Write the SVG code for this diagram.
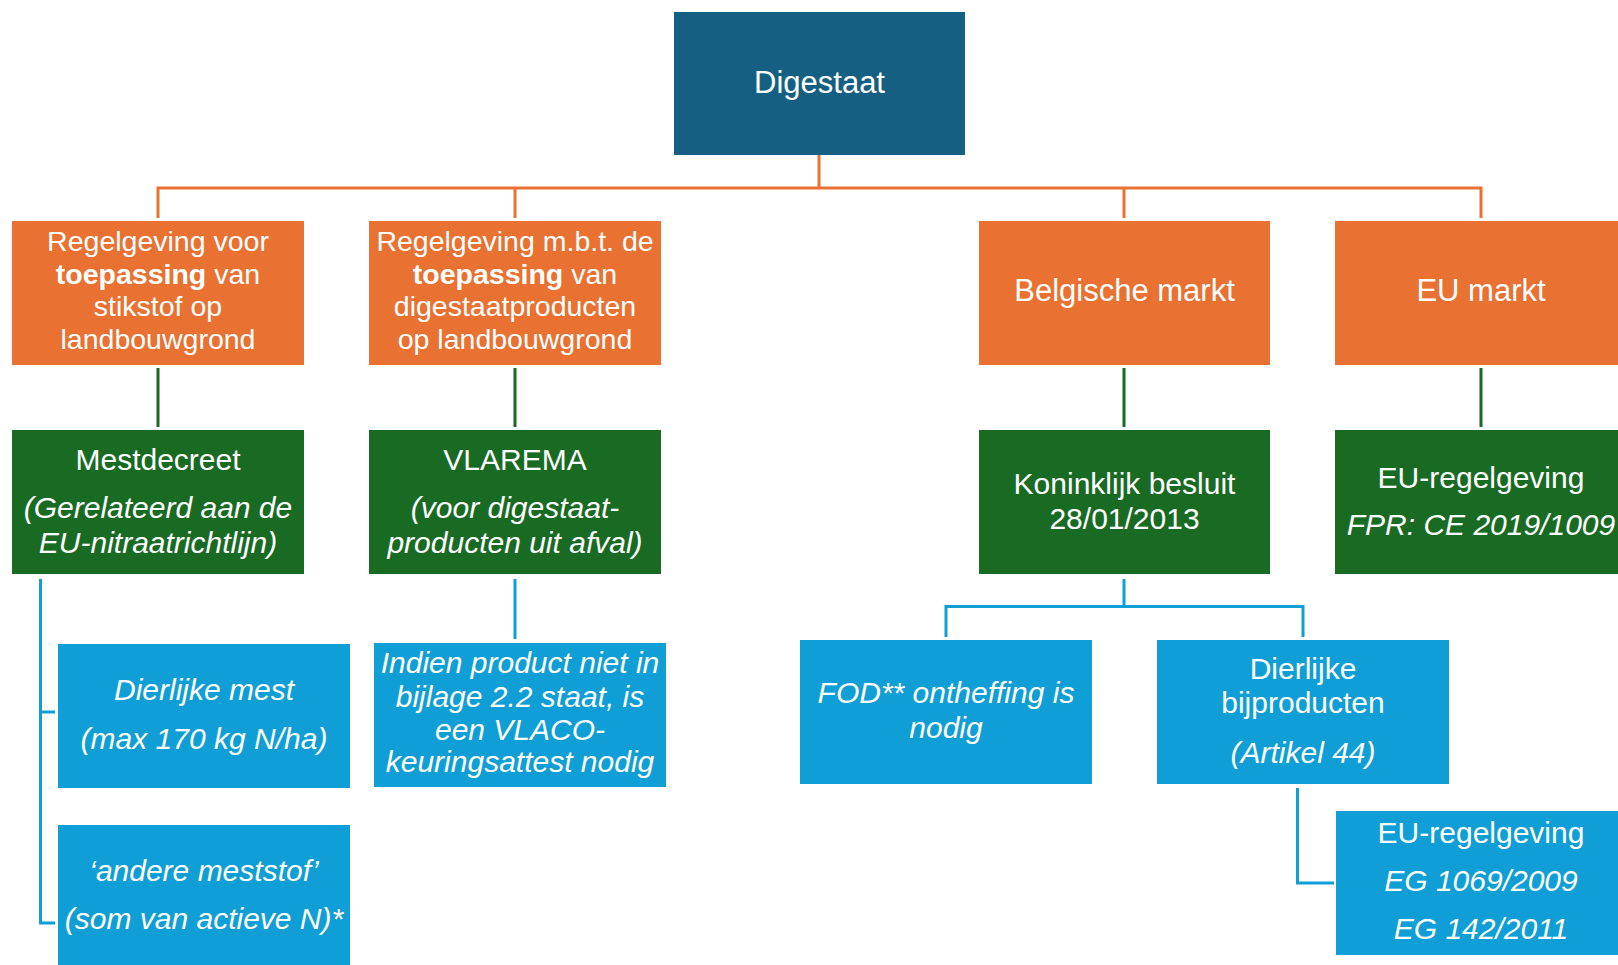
<svg xmlns="http://www.w3.org/2000/svg" width="1618" height="965" viewBox="0 0 1618 965">
<style>
text{font-family:"Liberation Sans",Arial,sans-serif;fill:#ffffff;text-anchor:middle;font-size:30px}
.t28{font-size:28.5px}
.t31{font-size:31px}
.it{font-style:italic}
.b{font-weight:bold}
.dark{fill:#156082}
.orange{fill:#E97132}
.green{fill:#196B24}
.blue{fill:#0F9ED5}
.co{stroke:#E97132;stroke-width:3;fill:none}
.cg{stroke:#196B24;stroke-width:3;fill:none}
.cb{stroke:#0F9ED5;stroke-width:3;fill:none}
</style>
<rect width="1618" height="965" fill="#ffffff"/>
<g id="connectors">
<path class="co" d="M819 155V188M158 218V188H1481V218M515 188V218M1124 188V218"/>
<path class="cg" d="M158 368V427M515 368V427M1124 368V427M1481 368V427"/>
<path class="cb" d="M40.5 579V923H55M40.5 712H55"/>
<path class="cb" d="M515 579V639"/>
<path class="cb" d="M1124 579V606.5M946 637V606.5H1303V637"/>
<path class="cb" d="M1297.5 788V883H1334"/>
</g>
<g id="digestaat"><rect class="dark" x="674" y="12" width="291" height="143"/><text class="t31" x="819.5" y="93">Digestaat</text></g>
<g id="regel-stikstof"><rect class="orange" x="12" y="221" width="292" height="144"/>
<text class="t28" x="158" y="251">Regelgeving voor</text>
<text class="t28" x="158" y="283.5"><tspan class="b">toepassing</tspan> van</text>
<text class="t28" x="158" y="316">stikstof op</text>
<text class="t28" x="158" y="348.5">landbouwgrond</text></g>
<g id="regel-digestaat"><rect class="orange" x="369" y="221" width="292" height="144"/>
<text class="t28" x="515" y="251">Regelgeving m.b.t. de</text>
<text class="t28" x="515" y="283.5"><tspan class="b">toepassing</tspan> van</text>
<text class="t28" x="515" y="316">digestaatproducten</text>
<text class="t28" x="515" y="348.5">op landbouwgrond</text></g>
<g id="belgische-markt"><rect class="orange" x="979" y="221" width="291" height="144"/><text class="t31" x="1124.5" y="301">Belgische markt</text></g>
<g id="eu-markt"><rect class="orange" x="1335" y="221" width="292" height="144"/><text class="t31" x="1481" y="301">EU markt</text></g>
<g id="mestdecreet"><rect class="green" x="12" y="430" width="292" height="144"/>
<text x="158" y="469.5">Mestdecreet</text>
<text class="it" x="158" y="518">(Gerelateerd aan de</text>
<text class="it" x="158" y="553">EU-nitraatrichtlijn)</text></g>
<g id="vlarema"><rect class="green" x="369" y="430" width="292" height="144"/>
<text x="515" y="469.5">VLAREMA</text>
<text class="it" x="515" y="518">(voor digestaat-</text>
<text class="it" x="515" y="553">producten uit afval)</text></g>
<g id="koninklijk-besluit"><rect class="green" x="979" y="430" width="291" height="144"/>
<text x="1124.5" y="494">Koninklijk besluit</text>
<text x="1124.5" y="528.5">28/01/2013</text></g>
<g id="eu-regelgeving-fpr"><rect class="green" x="1335" y="430" width="292" height="144"/>
<text x="1481" y="488">EU-regelgeving</text>
<text class="it" x="1481" y="535">FPR: CE 2019/1009</text></g>
<g id="dierlijke-mest"><rect class="blue" x="58" y="644" width="292" height="144"/>
<text class="it" x="204" y="700">Dierlijke mest</text>
<text class="it" x="204" y="748.5">(max 170 kg N/ha)</text></g>
<g id="andere-meststof"><rect class="blue" x="58" y="825" width="292" height="144"/>
<text class="it" x="204" y="881">‘andere meststof’</text>
<text class="it" x="204" y="929">(som van actieve N)*</text></g>
<g id="vlaco"><rect class="blue" x="374" y="643" width="292" height="144"/>
<text class="it" x="520" y="673">Indien product niet in</text>
<text class="it" x="520" y="706.5">bijlage 2.2 staat, is</text>
<text class="it" x="520" y="739.5">een VLACO-</text>
<text class="it" x="520" y="772">keuringsattest nodig</text></g>
<g id="fod"><rect class="blue" x="800" y="640" width="292" height="144"/>
<text class="it" x="946" y="703">FOD** ontheffing is</text>
<text class="it" x="946" y="737.5">nodig</text></g>
<g id="dierlijke-bijproducten"><rect class="blue" x="1157" y="640" width="292" height="144"/>
<text x="1303" y="678.5">Dierlijke</text>
<text x="1303" y="713">bijproducten</text>
<text class="it" x="1303" y="762.5">(Artikel 44)</text></g>
<g id="eu-regelgeving-eg"><rect class="blue" x="1336" y="811" width="292" height="144"/>
<text x="1481" y="843">EU-regelgeving</text>
<text class="it" x="1481" y="890.5">EG 1069/2009</text>
<text class="it" x="1481" y="939">EG 142/2011</text></g>
</svg>
